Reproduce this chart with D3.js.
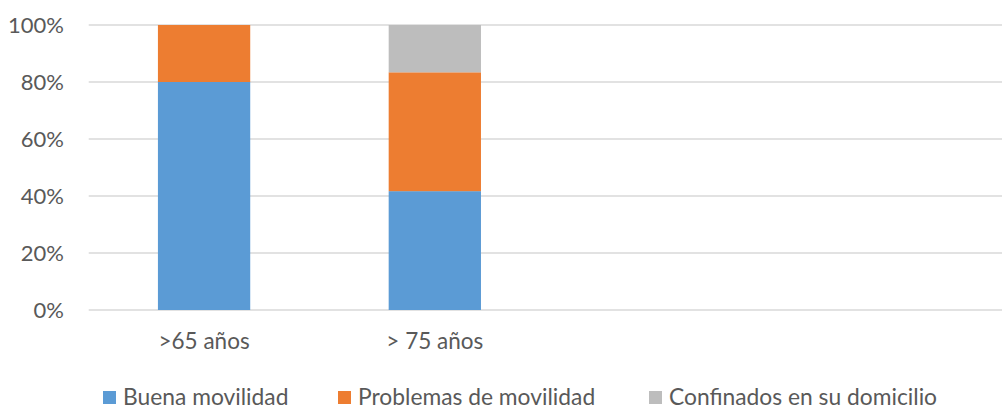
<!DOCTYPE html>
<html>
<head>
<meta charset="utf-8">
<script src="https://cdn.jsdelivr.net/npm/d3@7"></script>
<style>
  body { margin: 0; background: #fff; }
  svg { display: block; font-family: Lato, "Open Sans", sans-serif; }
  .tick text { fill: #595959; }
</style>
</head>
<body>
<svg id="chart"></svg>
<script>
// data
const categories = [">65 años", "> 75 años", "", " "];
const seriesNames = ["Buena movilidad", "Problemas de movilidad", "Confinados en su domicilio"];
const buena = [80, 41.7, null, null];
const problemas = [20, 41.7, null, null];
const confinados = [0, 16.6, null, null];
const yTicks = [0, 20, 40, 60, 80, 100];
const colors = ["#5B9BD5", "#ED7D31", "#BDBDBD"];

var w = 1002;
var h = 405;
var fontSize = 22.5;
var svg = d3.select("#chart").attr("width", w).attr("height", h);

var x = d3.scaleBand()
    .domain(categories)
    .range([88.7, 1011.7])
    .paddingInner(0.6)
    .paddingOuter(0.3);

var y = d3.scaleLinear()
    .domain([0, 100])
    .range([310, 25]);

// gridlines
svg.append("g")
    .selectAll("line")
    .data(yTicks)
    .enter()
    .append("line")
    .attr("x1", 88.7)
    .attr("x2", w)
    .attr("y1", d => y(d))
    .attr("y2", d => y(d))
    .attr("stroke", "#D9D9D9")
    .attr("stroke-width", 1.3);

// y axis labels
var yAxis = svg.append("g")
    .attr("transform", "translate(64,0)")
    .call(d3.axisLeft(y).tickValues(yTicks).tickFormat(d => d + "%").tickSize(0).tickPadding(0));
yAxis.select(".domain").remove();
yAxis.selectAll("text").attr("font-size", 22).attr("font-family", "Lato");

// stacked bars
const table = categories.map((c, i) => ({ cat: c, s0: buena[i], s1: problemas[i], s2: confinados[i] }));
const stack = d3.stack().keys(["s0", "s1", "s2"]).value((d, k) => d[k] || 0);
const layers = stack(table);

svg.append("g")
    .selectAll("g")
    .data(layers)
    .enter()
    .append("g")
    .attr("fill", (d, i) => colors[i])
    .selectAll("rect")
    .data(d => d.filter(p => p[1] - p[0] > 0))
    .enter()
    .append("rect")
    .attr("x", d => x(d.data.cat))
    .attr("width", x.bandwidth())
    .attr("y", d => y(d[1]))
    .attr("height", d => y(d[0]) - y(d[1]));

// x axis labels
var xAxis = svg.append("g")
    .attr("transform", "translate(0,333)")
    .call(d3.axisBottom(x).tickSize(0).tickPadding(0));
xAxis.select(".domain").remove();
xAxis.selectAll("text").attr("font-size", fontSize).attr("font-family", "Lato");

// legend
const legendX = [103, 338, 649];
var legend = svg.append("g");
var item = legend.selectAll("g")
    .data(seriesNames)
    .enter()
    .append("g")
    .attr("transform", (d, i) => "translate(" + legendX[i] + ",391)");
item.append("rect")
    .attr("width", 13)
    .attr("height", 13)
    .attr("fill", (d, i) => colors[i]);
item.append("text")
    .attr("x", 20)
    .attr("y", 14)
    .attr("font-size", 22.8)
    .attr("fill", "#595959")
    .text(d => d);
</script>
</body>
</html>
